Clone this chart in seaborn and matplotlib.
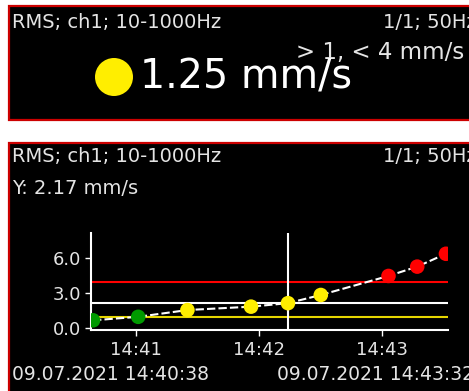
import matplotlib
matplotlib.use("Agg")
import matplotlib.pyplot as plt
import matplotlib.dates as mdates
from matplotlib.patches import Rectangle, Ellipse
import pandas as pd
import seaborn as sns

# Trend samples (RMS velocity, mm/s)
sample_times = ["14:40:39", "14:41:01", "14:41:25", "14:41:56", "14:42:14",
                "14:42:30", "14:43:03", "14:43:17", "14:43:31"]
sample_values = [0.70, 1.00, 1.58, 1.87, 2.17, 2.87, 4.50, 5.30, 6.40]

warn_limit = 1.0
alarm_limit = 4.0
cursor_index = 4
current_value = 1.25

y_ticks = [0.0, 3.0, 6.0]
x_ticks = ["14:41", "14:42", "14:43"]
record_date = "2021-07-09"
window = ["14:40:38", "14:43:32"]

level_colors = {"ok": "#009a00", "warn": "#ffee00", "alarm": "#ff0000"}

header_left = "RMS; ch1; 10-1000Hz"
header_right = "1/1; 50Hz"
range_text = "> 1, < 4 mm/s"


def level_of(v):
    if v <= warn_limit:
        return "ok"
    if v < alarm_limit:
        return "warn"
    return "alarm"


df = pd.DataFrame({
    "time": pd.to_datetime([f"{record_date} {t}" for t in sample_times]),
    "value": sample_values,
})
df["level"] = [level_of(v) for v in df["value"]]

W, H = 469, 391
TXT = "#e4e4e4"


def fx(x):
    return x / W


def fy(y):
    return 1 - y / H


sns.set_style("white")
plt.rcParams["font.family"] = ["DejaVu Sans"]

fig = plt.figure(figsize=(W / 100, H / 100), dpi=100, facecolor="white")

# two black display panels with red frames, kept behind everything else
for top, bottom in [(6, 120), (143, 400)]:
    fig.add_artist(Rectangle((fx(9), fy(bottom)), fx(480 - 9), (bottom - top) / H,
                             transform=fig.transFigure, facecolor="black",
                             edgecolor="#cc0000", lw=1.6, clip_on=False, zorder=-10))

# upper panel: current value readout
fig.text(fx(12), fy(22), header_left, color=TXT, fontsize=14, va="center", ha="left")
fig.text(fx(383), fy(22), header_right, color=TXT, fontsize=14, va="center", ha="left")
fig.text(fx(296), fy(52), range_text, color=TXT, fontsize=16.5, va="center", ha="left")
fig.add_artist(Ellipse((fx(114), fy(77)), 38 / W, 38 / H, transform=fig.transFigure,
                       facecolor=level_colors[level_of(current_value)], edgecolor="none"))
fig.text(fx(140), fy(77), f"{current_value:.2f} mm/s", color="white", fontsize=28.5,
         va="center", ha="left")

# lower panel: trend view
cursor_time = df["time"].iloc[cursor_index]
cursor_value = df["value"].iloc[cursor_index]
fig.text(fx(12), fy(157), header_left, color=TXT, fontsize=14, va="center", ha="left")
fig.text(fx(383), fy(157), header_right, color=TXT, fontsize=14, va="center", ha="left")
fig.text(fx(12), fy(188), f"Y: {cursor_value:.2f} mm/s", color=TXT, fontsize=14,
         va="center", ha="left")

t0 = pd.Timestamp(f"{record_date} {window[0]}")
t1 = pd.Timestamp(f"{record_date} {window[1]}")
fig.text(fx(12), fy(374), t0.strftime("%d.%m.%Y %H:%M:%S"), color=TXT, fontsize=13.5,
         va="center", ha="left")
fig.text(fx(277), fy(374), t1.strftime("%d.%m.%Y %H:%M:%S"), color=TXT, fontsize=13.5,
         va="center", ha="left")

ax = fig.add_axes([fx(91), fy(330), fx(448 - 91), (330 - 233) / H])
ax.patch.set_alpha(0)

ax.axhline(alarm_limit, color="#ff0000", lw=1.5, zorder=2)
ax.axhline(warn_limit, color="#e6d600", lw=1.5, zorder=2)
ax.axhline(cursor_value, color="white", lw=1.5, zorder=2)
ax.axvline(cursor_time, color="white", lw=1.5, zorder=2)

sns.lineplot(data=df, x="time", y="value", ax=ax, color="white", lw=1.5,
             linestyle=(0, (4, 1.5)), zorder=3)
sns.scatterplot(data=df, x="time", y="value", hue="level", palette=level_colors,
                s=110, linewidth=0, legend=False, ax=ax, zorder=4)

ax.set_xlim(t0, t1)
ax.set_ylim(-0.13, 8.18)
ax.set_yticks(y_ticks)
ax.set_yticklabels([f"{v:.1f}" for v in y_ticks])
ax.set_xticks(pd.to_datetime([f"{record_date} {t}" for t in x_ticks]))
ax.xaxis.set_major_formatter(mdates.DateFormatter("%H:%M"))
ax.set_xlabel("")
ax.set_ylabel("")

for side in ["top", "right"]:
    ax.spines[side].set_visible(False)
for side in ["left", "bottom"]:
    ax.spines[side].set_color("white")
    ax.spines[side].set_linewidth(1.5)

ax.tick_params(axis="both", colors="white", labelcolor=TXT, labelsize=13,
               length=4, width=1, direction="out", left=True, bottom=True)
ax.tick_params(axis="x", pad=4)
ax.tick_params(axis="y", pad=3)

fig.savefig("out.png", dpi=100, facecolor="white")
